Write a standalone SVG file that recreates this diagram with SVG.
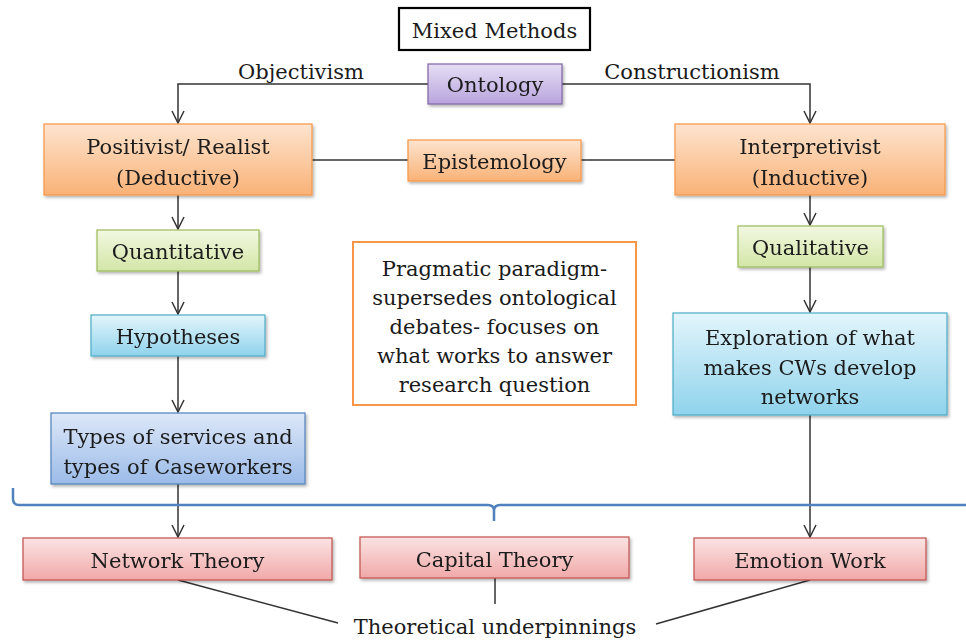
<svg xmlns="http://www.w3.org/2000/svg" width="966" height="644" viewBox="0 0 966 644">
<defs>
<style>
text{font-family:"DejaVu Serif","Liberation Serif",serif;font-size:21px;fill:#1a1a1a;text-anchor:middle}
.conn{stroke:#333;stroke-width:1.5;fill:none}
.arr{marker-end:url(#ah)}
.box{stroke-width:1.2}
.or{fill:url(#gOr);stroke:#f79646}
.pu{fill:url(#gPu);stroke:#8064a2}
.gr{fill:url(#gGr);stroke:#9bbb59}
.cy{fill:url(#gCy);stroke:#4bacc6}
.bl{fill:url(#gBl);stroke:#4f81bd}
.rd{fill:url(#gRd);stroke:#c0504d}
</style>
<marker id="ah" viewBox="0 0 14 14" refX="13" refY="7" markerWidth="14" markerHeight="14" markerUnits="userSpaceOnUse" orient="auto">
<path d="M1,1 L13,7 L1,13" fill="none" stroke="#333" stroke-width="1.5"/>
</marker>
<filter id="sh" x="-5%" y="-5%" width="115%" height="125%">
<feDropShadow dx="1.5" dy="2" stdDeviation="1.5" flood-color="#000" flood-opacity="0.3"/>
</filter>
<linearGradient id="gOr" x1="0" y1="0" x2="0" y2="1"><stop offset="0" stop-color="#fde4cf"/><stop offset="1" stop-color="#f9b277"/></linearGradient>
<linearGradient id="gPu" x1="0" y1="0" x2="0" y2="1"><stop offset="0" stop-color="#e6def5"/><stop offset="1" stop-color="#b8a4dd"/></linearGradient>
<linearGradient id="gGr" x1="0" y1="0" x2="0" y2="1"><stop offset="0" stop-color="#f2f8e2"/><stop offset="1" stop-color="#d3e6a6"/></linearGradient>
<linearGradient id="gCy" x1="0" y1="0" x2="0" y2="1"><stop offset="0" stop-color="#e3f5fb"/><stop offset="1" stop-color="#8fd3ec"/></linearGradient>
<linearGradient id="gBl" x1="0" y1="0" x2="0" y2="1"><stop offset="0" stop-color="#dde8f8"/><stop offset="1" stop-color="#9bbbe8"/></linearGradient>
<linearGradient id="gRd" x1="0" y1="0" x2="0" y2="1"><stop offset="0" stop-color="#fbe3e3"/><stop offset="1" stop-color="#f0a9a8"/></linearGradient>
</defs>
<rect width="966" height="644" fill="#fff"/>

<g id="connectors">
<path class="conn arr" d="M428,84 H178 V123"/>
<path class="conn arr" d="M562,84 H810 V123"/>
<path class="conn" d="M312,160 H408"/>
<path class="conn" d="M581,160 H675"/>
<path class="conn arr" d="M178,195 V229"/>
<path class="conn arr" d="M178,271 V314"/>
<path class="conn arr" d="M178,356 V412"/>
<path class="conn arr" d="M178,484 V537"/>
<path class="conn arr" d="M810,195 V225"/>
<path class="conn arr" d="M810,267 V312"/>
<path class="conn arr" d="M810,415 V537"/>
<path class="conn" d="M178,580 L338,623"/>
<path class="conn" d="M495,578 V604"/>
<path class="conn" d="M810,580 L656,624"/>
</g>

<g id="brace">
<path d="M13,488 V499 Q13,505 19,505 H488 Q494,505 494,511 V521 M494,511 Q494,505 500,505 H966" fill="none" stroke="#4f81bd" stroke-width="2.5"/>
</g>

<g id="mixed-methods">
<rect x="399" y="8" width="191" height="42" fill="#fff" stroke="#000" stroke-width="2.2"/>
<text x="494.5" y="38">Mixed Methods</text>
</g>

<g id="objectivism-label"><text x="301" y="79">Objectivism</text></g>
<g id="constructionism-label"><text x="692" y="79">Constructionism</text></g>

<g id="ontology" filter="url(#sh)">
<rect class="box pu" x="428" y="64" width="134" height="40"/>
<text x="495" y="92">Ontology</text>
</g>

<g id="positivist" filter="url(#sh)">
<rect class="box or" x="44" y="124" width="268" height="71"/>
<text x="178" y="154">Positivist/ Realist</text>
<text x="178" y="185">(Deductive)</text>
</g>

<g id="epistemology" filter="url(#sh)">
<rect class="box or" x="408" y="140" width="173" height="41"/>
<text x="494.5" y="169">Epistemology</text>
</g>

<g id="interpretivist" filter="url(#sh)">
<rect class="box or" x="675" y="124" width="270" height="71"/>
<text x="810" y="154">Interpretivist</text>
<text x="810" y="185">(Inductive)</text>
</g>

<g id="quantitative" filter="url(#sh)">
<rect class="box gr" x="97" y="230" width="162" height="41"/>
<text x="178" y="259">Quantitative</text>
</g>

<g id="hypotheses" filter="url(#sh)">
<rect class="box cy" x="91" y="315" width="174" height="41"/>
<text x="178" y="344">Hypotheses</text>
</g>

<g id="types" filter="url(#sh)">
<rect class="box bl" x="51" y="413" width="254" height="71"/>
<text x="178" y="444">Types of services and</text>
<text x="178" y="474">types of Caseworkers</text>
</g>

<g id="pragmatic">
<rect x="353" y="242" width="283" height="163" fill="#fff" stroke="#f79646" stroke-width="2"/>
<text x="494.5" y="276">Pragmatic paradigm-</text>
<text x="494.5" y="305">supersedes ontological</text>
<text x="494.5" y="334">debates- focuses on</text>
<text x="494.5" y="363">what works to answer</text>
<text x="494.5" y="392">research question</text>
</g>

<g id="qualitative" filter="url(#sh)">
<rect class="box gr" x="738" y="226" width="145" height="41"/>
<text x="810.5" y="255">Qualitative</text>
</g>

<g id="exploration" filter="url(#sh)">
<rect class="box cy" x="673" y="313" width="274" height="102"/>
<text x="810" y="345">Exploration of what</text>
<text x="810" y="375">makes CWs develop</text>
<text x="810" y="404">networks</text>
</g>

<g id="network-theory" filter="url(#sh)">
<rect class="box rd" x="23" y="538" width="309" height="42"/>
<text x="177.5" y="568">Network Theory</text>
</g>

<g id="capital-theory" filter="url(#sh)">
<rect class="box rd" x="360" y="537" width="269" height="41"/>
<text x="494.5" y="567">Capital Theory</text>
</g>

<g id="emotion-work" filter="url(#sh)">
<rect class="box rd" x="694" y="538" width="232" height="42"/>
<text x="810" y="568">Emotion Work</text>
</g>

<g id="theoretical-label"><text x="495" y="634">Theoretical underpinnings</text></g>
</svg>
